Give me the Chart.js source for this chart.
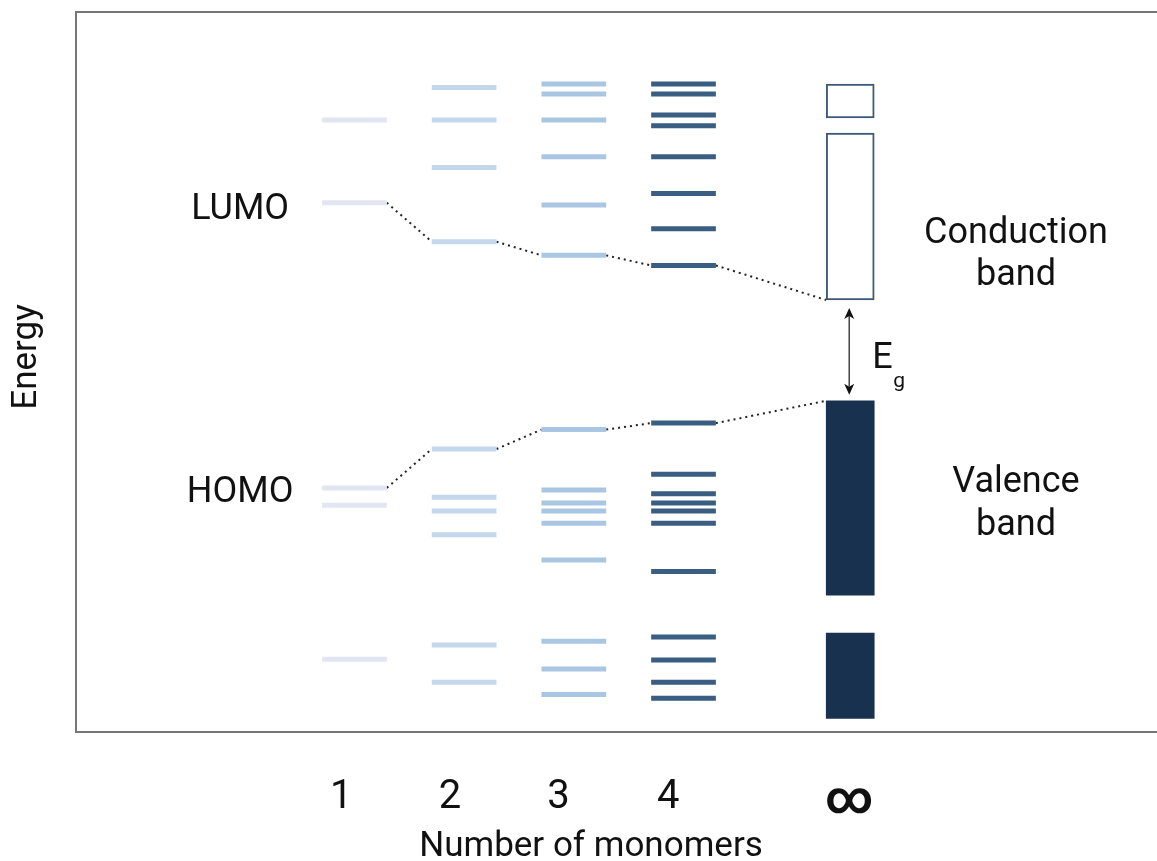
<!DOCTYPE html>
<html>
<head>
<meta charset="utf-8">
<title>Energy levels vs number of monomers</title>
<script src="https://cdn.jsdelivr.net/npm/chart.js@4.4.0/dist/chart.umd.min.js"></script>
<style>
    html, body { margin: 0; padding: 0; background: #fff; }
    #wrap { width: 1157px; height: 861px; position: relative; }
</style>
</head>
<body>
<div id="wrap"><canvas id="levelsChart"></canvas></div>
<script>
// Tick labels and where they sit on the x axis
const tickLabels = ['1', '2', '3', '4', '\u221E'];
const tickPositions = [0.88, 1.87, 2.86, 3.86, 5.51];

// Energy levels (arbitrary units) for 1..4 monomers
const columnX = [1, 2, 3, 4];
const levels1 = [85.0, 73.5, 33.9, 31.5, 10.1];
const levels2 = [89.5, 85.0, 78.4, 68.1, 39.3, 32.6, 30.7, 27.4, 12.1, 6.9];
const levels3 = [90.0, 88.6, 85.0, 79.9, 73.2, 66.2, 42.0, 33.6, 31.8, 30.7, 29.0, 23.9, 12.6, 8.75, 5.2];
const levels4 = [90.0, 88.6, 85.7, 84.2, 79.9, 74.8, 69.9, 64.8, 42.9, 35.8, 33.1, 31.8, 30.7, 29.0, 22.3, 13.2, 10.0, 6.9, 4.7];

// Bands for the infinite chain
const bandX = 5.52;
const conductionBands = [[85.3, 90.0], [60.0, 83.2]];
const valenceBands = [[19.0, 46.0], [1.9, 13.75]];

// LUMO / HOMO of each chain length (the band edge closes each path)
const lumoLevels = [73.5, 68.1, 66.2, 64.8];
const homoLevels = [33.9, 39.3, 42.0, 42.9];

const levelHalfWidth = 0.295;
const bandHalfWidth = 0.22;
const levelColors = ['#e2e6f3', '#c4d7ec', '#a9c6e2', '#395e82'];

function levelSegments(xc, energies) {
    const pts = [];
    energies.forEach(e => {
        pts.push({ x: xc - levelHalfWidth, y: e });
        pts.push({ x: xc + levelHalfWidth, y: e });
        pts.push({ x: xc + levelHalfWidth, y: null });
    });
    return pts;
}

function connectorSegments(levels, bandEdge) {
    const pts = [];
    for (let i = 0; i < levels.length; i++) {
        const toX = i < levels.length - 1 ? columnX[i + 1] - levelHalfWidth : bandX - bandHalfWidth;
        const toY = i < levels.length - 1 ? levels[i + 1] : bandEdge;
        pts.push({ x: columnX[i] + levelHalfWidth, y: levels[i] });
        pts.push({ x: toX, y: toY });
        pts.push({ x: toX, y: null });
    }
    return pts;
}

const allLevels = [levels1, levels2, levels3, levels4];
const levelDatasets = allLevels.map((lv, i) => ({
    type: 'line',
    label: (i + 1) + ' monomer levels',
    data: levelSegments(columnX[i], lv),
    borderColor: levelColors[i],
    borderWidth: 5,
    borderCapStyle: 'butt',
    pointRadius: 0,
    spanGaps: false
}));

const connectorStyle = {
    type: 'line',
    borderColor: '#222',
    borderWidth: 2,
    borderDash: [2, 4],
    pointRadius: 0,
    spanGaps: false
};

// Frame, text labels and the band gap arrow
const diagramExtras = {
    id: 'diagramExtras',
    afterDraw(chart) {
        const { ctx, chartArea: area, scales: { x, y } } = chart;
        ctx.save();

        // frame (top, left, bottom)
        ctx.strokeStyle = '#767676';
        ctx.lineWidth = 2;
        ctx.beginPath();
        ctx.moveTo(area.right, area.top);
        ctx.lineTo(area.left, area.top);
        ctx.lineTo(area.left, area.bottom);
        ctx.lineTo(area.right, area.bottom);
        ctx.stroke();

        ctx.fillStyle = '#111';
        ctx.textBaseline = 'middle';
        ctx.textAlign = 'center';
        ctx.font = '36px Roboto';

        const labelX = x.getPixelForValue(1 - levelHalfWidth) - 82;
        ctx.fillText('LUMO', labelX, y.getPixelForValue(lumoLevels[0]) + 7);
        ctx.fillText('HOMO', labelX, y.getPixelForValue(homoLevels[0]) + 5);

        ctx.fillText('Conduction', 1016, 234);
        ctx.fillText('band', 1016, 276);
        ctx.fillText('Valence', 1016, 483);
        ctx.fillText('band', 1016, 526);

        // band gap arrow
        const ax = x.getPixelForValue(bandX) - 1;
        const y1 = y.getPixelForValue(conductionBands[1][0]) + 8;
        const y2 = y.getPixelForValue(valenceBands[0][1]) - 6;
        ctx.strokeStyle = '#444';
        ctx.lineWidth = 1.5;
        ctx.beginPath();
        ctx.moveTo(ax, y1 + 8);
        ctx.lineTo(ax, y2 - 8);
        ctx.stroke();
        ctx.fillStyle = '#111';
        ctx.beginPath();
        ctx.moveTo(ax, y1); ctx.lineTo(ax - 5, y1 + 11); ctx.lineTo(ax, y1 + 8); ctx.lineTo(ax + 5, y1 + 11);
        ctx.closePath(); ctx.fill();
        ctx.beginPath();
        ctx.moveTo(ax, y2); ctx.lineTo(ax - 5, y2 - 11); ctx.lineTo(ax, y2 - 8); ctx.lineTo(ax + 5, y2 - 11);
        ctx.closePath(); ctx.fill();

        ctx.textAlign = 'left';
        ctx.font = '36px Roboto';
        ctx.fillText('E', ax + 23, 359);
        ctx.font = '21px Roboto';
        ctx.fillText('g', ax + 44, 382);

        // axis titles
        ctx.textAlign = 'center';
        ctx.font = '35px Roboto';
        ctx.fillText('Number of monomers', 591, 847);
        ctx.translate(27, 357);
        ctx.rotate(-Math.PI / 2);
        ctx.fillText('Energy', 0, 0);

        ctx.restore();
    }
};

document.addEventListener('DOMContentLoaded', () => {
    const canvas = document.getElementById('levelsChart');
    new Chart(canvas, {
        type: 'line',
        data: {
            datasets: [
                ...levelDatasets,
                Object.assign({ label: 'LUMO trend', data: connectorSegments(lumoLevels, conductionBands[1][0]) }, connectorStyle),
                Object.assign({ label: 'HOMO trend', data: connectorSegments(homoLevels, valenceBands[0][1]) }, connectorStyle),
                {
                    type: 'bar',
                    label: 'Conduction band',
                    data: conductionBands.map(b => ({ x: bandX, y: b })),
                    backgroundColor: '#ffffff',
                    borderColor: '#3d5a7b',
                    borderWidth: 2,
                    borderSkipped: false,
                    barThickness: 48,
                    grouped: false
                },
                {
                    type: 'bar',
                    label: 'Valence band',
                    data: valenceBands.map(b => ({ x: bandX, y: b })),
                    backgroundColor: '#17314f',
                    borderWidth: 0,
                    barThickness: 48,
                    grouped: false
                }
            ]
        },
        options: {
            responsive: true,
            maintainAspectRatio: false,
            animation: false,
            layout: { padding: { top: 12, left: 0, right: 0, bottom: 0 } },
            plugins: {
                legend: { display: false },
                tooltip: { enabled: false }
            },
            scales: {
                x: {
                    type: 'linear',
                    min: -1.539,
                    max: 8.317,
                    offset: false,
                    grid: { display: false, drawTicks: false },
                    border: { display: false },
                    afterBuildTicks: scale => {
                        scale.ticks = tickPositions.map(v => ({ value: v }));
                    },
                    afterFit: scale => { scale.height = 129; },
                    ticks: {
                        autoSkip: false,
                        maxRotation: 0,
                        padding: 42,
                        color: '#111',
                        font: ctx => ctx.index === 4
                            ? { family: 'Roboto', size: 46, weight: 'bold' }
                            : { family: 'Roboto', size: 40 },
                        callback: (value, index) => tickLabels[index]
                    }
                },
                y: {
                    min: 0,
                    max: 100,
                    grid: { display: false, drawTicks: false },
                    border: { display: false },
                    ticks: { display: false },
                    afterFit: scale => { scale.width = 76; }
                }
            }
        },
        plugins: [diagramExtras]
    });
});
</script>
</body>
</html>
